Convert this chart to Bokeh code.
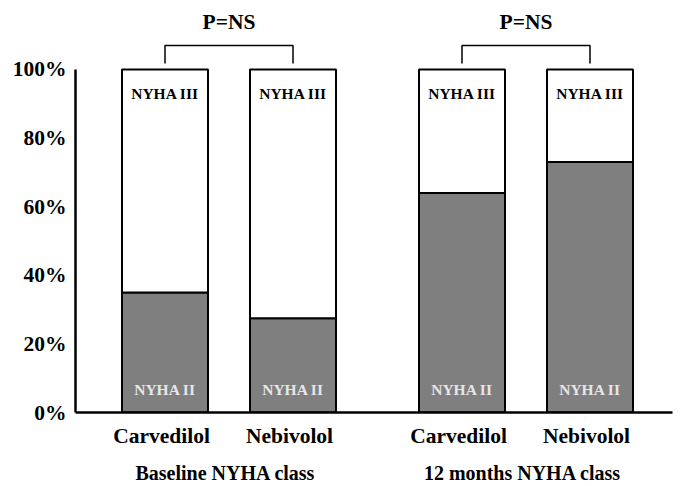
from bokeh.plotting import figure
from bokeh.models import FactorRange, FixedTicker, ColumnDataSource
from bokeh.core.properties import value
from bokeh.transform import dodge
from bokeh.embed import file_html
from bokeh.resources import INLINE

groups = ["Baseline NYHA class", "12 months NYHA class"]
drugs = ["Carvedilol", "Nebivolol"]
nyha2 = [35, 27.5, 64, 73]          # % NYHA II (grey)
nyha3 = [100 - v for v in nyha2]    # % NYHA III (white)
y_ticks = [0, 20, 40, 60, 80, 100]
p_labels = ["P=NS", "P=NS"]

factors = [(g, d) for g in groups for d in drugs]
FONT = "Liberation Serif"
SHIFT = 0.035

p = figure(width=680, height=486, output_backend="svg", toolbar_location=None,
           x_range=FactorRange(*factors, factor_padding=0.28, group_padding=0.69,
                               range_padding=0.36, range_padding_units="absolute"),
           y_range=(0, 116.6), min_border_left=75, min_border_right=8,
           min_border_top=12, min_border_bottom=73)
p.outline_line_color = None
p.grid.grid_line_color = None
xr = p.x_range

src = ColumnDataSource(dict(x=factors, II=nyha2, III=nyha3))
p.vbar_stack(["II", "III"], x=dodge("x", SHIFT, range=xr), width=0.86, source=src,
             fill_color=["#7f7f7f", "white"], line_color="black", line_width=2)

# bar texts
tsrc = ColumnDataSource(dict(x=factors, y3=[93] * 4, y2=[6.7] * 4,
                             t3=["NYHA III"] * 4, t2=["NYHA II"] * 4))
p.text(x=dodge("x", SHIFT, range=xr), y="y3", text="t3", source=tsrc,
       text_align="center", text_baseline="middle", text_font=value(FONT),
       text_font_style="bold", text_font_size="15.5px", text_color="black")
p.text(x=dodge("x", SHIFT, range=xr), y="y2", text="t2", source=tsrc,
       text_align="center", text_baseline="middle", text_font=value(FONT),
       text_font_style="bold", text_font_size="15.5px", text_color="#e6e6e6")

# brackets
xs, ys = [], []
for g in groups:
    xs.append([(g, drugs[0], SHIFT), (g, drugs[0], SHIFT),
               (g, drugs[1], SHIFT), (g, drugs[1], SHIFT)])
    ys.append([101.7, 107, 107, 101.7])
p.multi_line(xs=xs, ys=ys, line_color="black", line_width=1.5)
psrc = ColumnDataSource(dict(x=groups, y=[113.7] * 2, t=p_labels))
p.text(x=dodge("x", SHIFT, range=xr), y="y", text="t", source=psrc,
       text_align="center", text_baseline="middle", text_font=value(FONT),
       text_font_style="bold", text_font_size="21.5px", text_color="black")

# y axis
ya = p.yaxis[0]
ya.ticker = FixedTicker(ticks=y_ticks)
ya.major_label_overrides = {t: f"{t}%" for t in y_ticks}
ya.bounds = (0, 100)
ya.axis_line_width = 2.5
ya.major_tick_line_color = None
ya.minor_tick_line_color = None
ya.major_tick_out = 0
ya.major_tick_in = 0
ya.major_label_text_font = FONT
ya.major_label_text_font_style = "bold"
ya.major_label_text_font_size = "21.5px"
ya.major_label_text_color = "black"
ya.major_label_standoff = 9

xa = p.xaxis[0]
xa.axis_line_width = 2.5
xa.major_tick_line_color = None
xa.minor_tick_line_color = None
xa.major_tick_out = 0
xa.major_tick_in = 0
xa.major_label_text_font = FONT
xa.major_label_text_font_style = "bold"
xa.major_label_text_font_size = "21.5px"
xa.major_label_text_color = "black"
xa.major_label_standoff = 11
xa.major_label_text_line_height = 1.8
xa.major_label_orientation = "horizontal"
xa.group_text_font = FONT
xa.group_text_font_style = "bold"
xa.group_text_font_size = "20px"
xa.group_text_color = "black"
xa.group_label_orientation = "horizontal"
xa.separator_line_alpha = 0

open("out.html", "w").write(file_html(p, INLINE))
